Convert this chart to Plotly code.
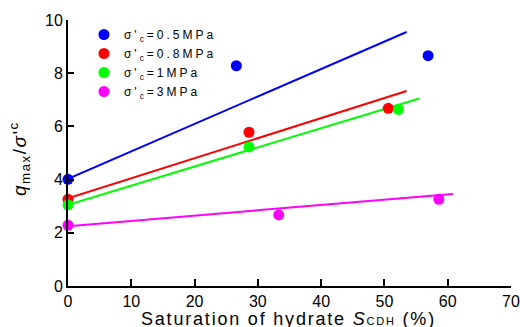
import plotly.graph_objects as go

# data
LS = "<span style='letter-spacing:3px'>"
series_names = [LS + "σ'<sub>c</sub>=0.5MPa</span>", LS + "σ'<sub>c</sub>=0.8MPa</span>",
                LS + "σ'<sub>c</sub>=1MPa</span>", LS + "σ'<sub>c</sub>=3MPa</span>"]
colors = ["#0000FF", "#FF0000", "#00FF00", "#FF00FF"]
sat_05 = [0, 26.6, 56.9]
q_05 = [4.01, 8.28, 8.66]
sat_08 = [0, 28.6, 50.6]
q_08 = [3.26, 5.78, 6.68]
sat_1 = [0, 28.6, 52.2]
q_1 = [3.05, 5.23, 6.64]
sat_3 = [0, 33.3, 58.6]
q_3 = [2.28, 2.67, 3.26]
# fitted line endpoints
fit_x_05 = [0, 53.5]
fit_y_05 = [4.03, 9.55]
fit_x_08 = [0, 53.5]
fit_y_08 = [3.3, 7.33]
fit_x_1 = [0, 55.5]
fit_y_1 = [3.05, 7.05]
fit_x_3 = [0, 60.8]
fit_y_3 = [2.25, 3.46]
x_ticks = [0, 10, 20, 30, 40, 50, 60, 70]
y_ticks = [0, 2, 4, 6, 8, 10]

pts = [(sat_05, q_05), (sat_08, q_08), (sat_1, q_1), (sat_3, q_3)]
fits = [(fit_x_05, fit_y_05), (fit_x_08, fit_y_08), (fit_x_1, fit_y_1), (fit_x_3, fit_y_3)]

fig = go.Figure()
for (fx, fy), c in zip(fits, colors):
    fig.add_trace(go.Scatter(x=fx, y=fy, mode="lines", line=dict(color=c, width=2),
                             showlegend=False, cliponaxis=False))
for (sx, sy), c, n in zip(pts, colors, series_names):
    fig.add_trace(go.Scatter(x=sx, y=sy, mode="markers", name=n,
                             marker=dict(color=c, size=11), cliponaxis=False))

fig.update_layout(
    width=520, height=327,
    margin=dict(l=68, r=9, t=20, b=41),
    plot_bgcolor="white", paper_bgcolor="white",
    font=dict(family="Liberation Sans, Arial", size=16, color="black"),
    legend=dict(x=0.036, y=1.0, xanchor="left", yanchor="top",
                font=dict(size=12), bgcolor="rgba(0,0,0,0)",
                tracegroupgap=0, itemwidth=30),
    xaxis=dict(range=[0, 70], tickvals=x_ticks, ticks="inside", ticklen=7, tickwidth=2,
               tickcolor="black", showline=True, linewidth=2, linecolor="black",
               showgrid=False, zeroline=False, automargin=False),
    yaxis=dict(range=[0, 10], tickvals=y_ticks, ticks="inside", ticklen=6, tickwidth=2,
               tickcolor="black", showline=True, linewidth=2, linecolor="black",
               showgrid=False, zeroline=False, automargin=False),
    annotations=[
        dict(text="<span style='letter-spacing:1.8px'>Saturation of hydrate <i>S</i>"
                  "<span style='font-size:11px'>CDH</span> (%)</span>",
             xref="paper", yref="paper", x=(288 - 68) / 443, y=(286 - 318.5) / 266,
             xanchor="center", yanchor="middle", showarrow=False, font=dict(size=18)),
        dict(text="<span style='letter-spacing:1.5px'><i>q</i><sub>max</sub>/<i>σ</i>'<sup>c</sup></span>",
             xref="paper", yref="paper", x=(20 - 68) / 443, y=(286 - 159) / 266,
             xanchor="center", yanchor="middle", showarrow=False, textangle=-90,
             font=dict(size=19)),
    ],
)
fig.write_html("out.html", post_script="document.body.style.margin='0';",
               config={"displayModeBar": False})
